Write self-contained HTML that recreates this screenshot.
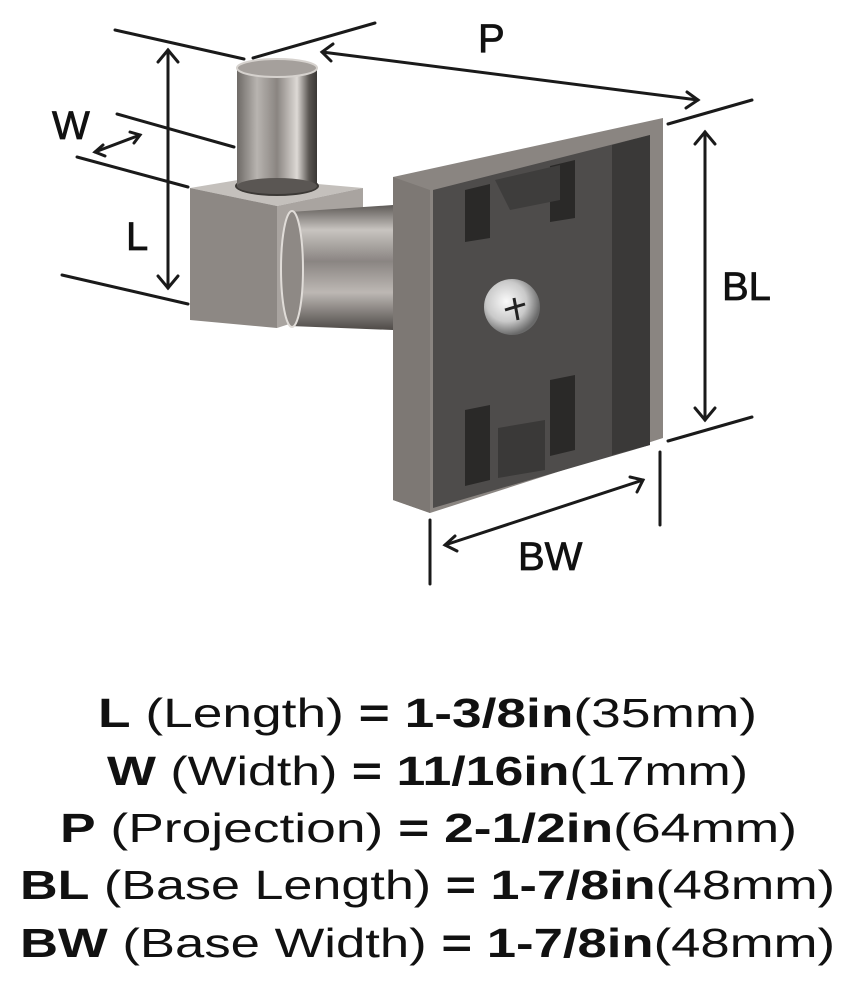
<!DOCTYPE html>
<html><head><meta charset="utf-8"><style>
html,body{margin:0;padding:0;background:#fff;}
svg{display:block}
</style></head><body>
<svg width="856" height="990" viewBox="0 0 856 990" xmlns="http://www.w3.org/2000/svg">
<defs>
<linearGradient id="cyl" x1="0" x2="1" y1="0" y2="0">
<stop offset="0" stop-color="#6e6a66"/><stop offset="0.25" stop-color="#b8b4b0"/><stop offset="0.5" stop-color="#8a8581"/><stop offset="0.75" stop-color="#ddd9d5"/><stop offset="0.9" stop-color="#5a5652"/><stop offset="1" stop-color="#3a3735"/>
</linearGradient>
<linearGradient id="tube" x1="0" x2="0" y1="0" y2="1">
<stop offset="0" stop-color="#5e5a57"/><stop offset="0.2" stop-color="#c8c4c0"/><stop offset="0.45" stop-color="#8a8582"/><stop offset="0.7" stop-color="#bdb8b4"/><stop offset="1" stop-color="#4e4a47"/>
</linearGradient>
<radialGradient id="scr" cx="0.4" cy="0.4" r="0.6">
<stop offset="0" stop-color="#fafafa"/><stop offset="0.6" stop-color="#c9c9c9"/><stop offset="1" stop-color="#6a6a6a"/>
</radialGradient>
</defs>
<g stroke="#1a1a1a" stroke-width="3" fill="none" stroke-linecap="round">
<line x1="115" y1="30" x2="244" y2="59"/>
<line x1="253" y1="58" x2="375" y2="23"/>
<line x1="117" y1="114" x2="234" y2="147"/>
<line x1="77" y1="157" x2="188" y2="187"/>
<line x1="62" y1="275" x2="188" y2="304"/>
<line x1="168" y1="50" x2="168" y2="288"/>
<polyline points="158,62 168,50 178,62"/><polyline points="158,276 168,288 178,276"/>
<line x1="95" y1="152" x2="140" y2="135"/>
<polyline points="103,145 95,152 105,156"/><polyline points="130,132 140,135 134,143"/>
<line x1="322" y1="52" x2="698" y2="100"/>
<polyline points="333,44 322,52 331,61"/><polyline points="687,92 698,100 686,108"/>
<line x1="668" y1="124" x2="752" y2="100"/>
<line x1="668" y1="441" x2="752" y2="417"/>
<line x1="705" y1="132" x2="705" y2="420"/>
<polyline points="695,144 705,132 715,144"/><polyline points="695,408 705,420 715,408"/>
<line x1="430" y1="520" x2="430" y2="584"/>
<line x1="660" y1="452" x2="660" y2="525"/>
<line x1="445" y1="545" x2="643" y2="480"/>
<polyline points="455,536 445,545 457,551"/><polyline points="630,477 643,480 637,492"/>
</g>
<!-- cube -->
<polygon points="190,188 250,178 363,188 277,206" fill="#c4c0bc"/>
<polygon points="190,188 277,206 277,328 190,320" fill="#8d8884"/>
<polygon points="277,206 363,188 363,300 277,328" fill="#a9a4a0"/>
<!-- tube -->
<path d="M290,212 L393,205 L393,330 L290,326 Z" fill="url(#tube)"/>
<ellipse cx="292" cy="269" rx="11" ry="58" fill="#8e8985" stroke="#e0dcd8" stroke-width="2"/>
<ellipse cx="277" cy="186" rx="42" ry="10" fill="#3c3936"/>
<!-- post -->
<rect x="237" y="68" width="80" height="118" fill="url(#cyl)"/>
<ellipse cx="277" cy="186" rx="40" ry="8" fill="#5a5653"/>
<ellipse cx="277" cy="68" rx="40" ry="9" fill="#a5a09c" stroke="#d6d2ce" stroke-width="2"/>
<!-- plate -->
<polygon points="393,177 663,118 663,438 430,513 393,500" fill="#8a8581"/>
<polygon points="393,177 430,190 430,513 393,500" fill="#7d7874"/>
<polygon points="433,190 650,135 650,445 433,508" fill="#4e4c4b"/>
<polygon points="612,145 650,135 650,445 612,455" fill="#3a3938"/>
<polygon points="465,190 490,184 490,238 465,242" fill="#2a2928"/>
<polygon points="550,166 575,160 575,218 550,222" fill="#2a2928"/>
<polygon points="495,180 560,165 560,200 510,210" fill="#3e3d3c"/>
<polygon points="465,410 490,405 490,480 465,486" fill="#2a2928"/>
<polygon points="550,380 575,375 575,450 550,456" fill="#2a2928"/>
<polygon points="498,428 545,420 545,470 498,478" fill="#3a3938"/>
<circle cx="512" cy="307" r="28" fill="url(#scr)"/>
<path d="M505,310 L525,304 M514,298 L518,320" stroke="#222" stroke-width="3"/>
<g font-family="Liberation Sans, sans-serif" fill="#111" font-size="40" stroke="#111" stroke-width="0.8">
<text x="478" y="52">P</text>
<text x="52" y="139">W</text>
<text x="126" y="250">L</text>
<text x="722" y="300">BL</text>
<text x="518" y="570">BW</text>
</g>
<g font-family="Liberation Sans, sans-serif" fill="#111" font-size="41">
<text x="98" y="727" textLength="659" lengthAdjust="spacingAndGlyphs"><tspan font-weight="bold">L</tspan> (Length) <tspan font-weight="bold">= 1-3/8in</tspan>(35mm)</text>
<text x="107" y="785" textLength="641" lengthAdjust="spacingAndGlyphs"><tspan font-weight="bold">W</tspan> (Width) <tspan font-weight="bold">= 11/16in</tspan>(17mm)</text>
<text x="60" y="842" textLength="737" lengthAdjust="spacingAndGlyphs"><tspan font-weight="bold">P</tspan> (Projection) <tspan font-weight="bold">= 2-1/2in</tspan>(64mm)</text>
<text x="20" y="899" textLength="815" lengthAdjust="spacingAndGlyphs"><tspan font-weight="bold">BL</tspan> (Base Length) <tspan font-weight="bold">= 1-7/8in</tspan>(48mm)</text>
<text x="20" y="957" textLength="815" lengthAdjust="spacingAndGlyphs"><tspan font-weight="bold">BW</tspan> (Base Width) <tspan font-weight="bold">= 1-7/8in</tspan>(48mm)</text>
</g>
</svg>
</body></html>
